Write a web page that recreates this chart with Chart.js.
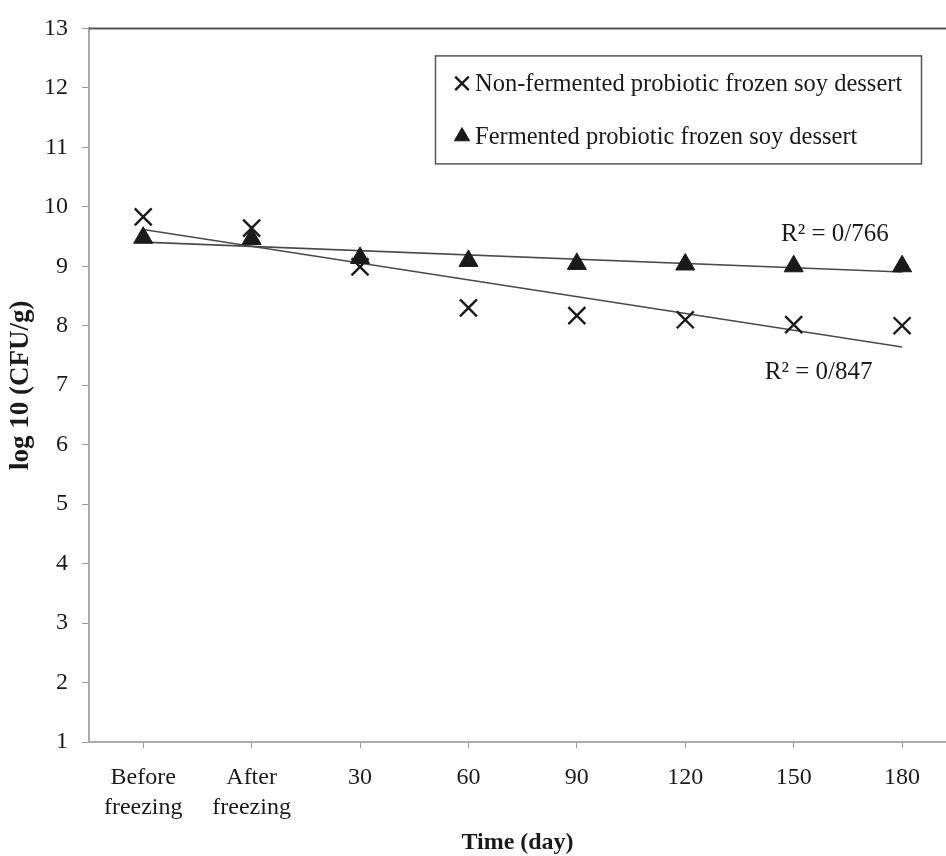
<!DOCTYPE html>
<html>
<head>
<meta charset="utf-8">
<title>Probiotic count during frozen storage</title>
<script src="https://cdn.jsdelivr.net/npm/chart.js@4.4.0/dist/chart.umd.min.js"></script>
<style>
  html, body { margin: 0; padding: 0; background: #fff; overflow: hidden; }
  #wrap { width: 946px; height: 856px; position: relative; overflow: hidden; }
  #wrap canvas { display: block; }
</style>
</head>
<body>
<div id="wrap"><canvas id="storage-chart"></canvas></div>
<script>
(function () {
    "use strict";

    // Values
    var timeLabels = [["Before", "freezing"], ["After", "freezing"], "30", "60", "90", "120", "150", "180"];
    var nonFermented = [9.83, 9.64, 8.99, 8.30, 8.17, 8.10, 8.02, 8.00];
    var fermented = [9.48, 9.46, 9.14, 9.09, 9.04, 9.03, 9.00, 9.00];
    var seriesNames = ["Non-fermented probiotic frozen soy dessert", "Fermented probiotic frozen soy dessert"];
    var r2Texts = ["R\u00b2 = 0/847", "R\u00b2 = 0/766"];

    var serif = "'Liberation Serif', 'Times New Roman', serif";
    var ink = "#1a1a1a";

    // Least squares trend line, first to last category
    function trend(values) {
        var n = values.length, sx = 0, sy = 0, sxy = 0, sxx = 0;
        values.forEach(function (v, i) { sx += i; sy += v; sxy += i * v; sxx += i * i; });
        var b = (n * sxy - sx * sy) / (n * sxx - sx * sx);
        var a = (sy - b * sx) / n;
        return [{x: 0, y: a}, {x: n - 1, y: a + b * (n - 1)}];
    }

    function points(values) {
        return values.map(function (v, i) { return {x: i, y: v}; });
    }

    // Top frame, legend box and R² notes
    var notes = {
        id: "notes",
        afterDatasetsDraw: function (chart) {
            var ctx = chart.ctx, area = chart.chartArea;
            var xs = chart.scales.x, ys = chart.scales.y;
            ctx.save();

            ctx.strokeStyle = "#555";
            ctx.lineWidth = 2;
            ctx.beginPath();
            ctx.moveTo(area.left, area.top);
            ctx.lineTo(area.right, area.top);
            ctx.stroke();

            // legend
            var bx = area.left + 346, by = area.top + 27;
            ctx.lineWidth = 1.5;
            ctx.strokeStyle = "#555";
            ctx.strokeRect(bx + 0.5, by + 0.5, 486, 108);
            ctx.textBaseline = "middle";
            ctx.textAlign = "left";
            [0, 1].forEach(function (k) {
                var ds = chart.data.datasets[k];
                var yy = by + 28 + k * 53;
                ctx.strokeStyle = ds.borderColor;
                ctx.fillStyle = ds.backgroundColor;
                ctx.lineWidth = ds.borderWidth;
                Chart.helpers.drawPoint(ctx, {
                    pointStyle: ds.pointStyle,
                    radius: ds.pointRadius * 0.8,
                    borderWidth: ds.borderWidth
                }, bx + 27, yy);
                ctx.font = "24.5px " + serif;
                ctx.fillStyle = ink;
                ctx.fillText(seriesNames[k], bx + 40, yy + 1);
            });

            // R² labels
            ctx.font = "25px " + serif;
            ctx.textAlign = "center";
            ctx.fillText(r2Texts[1], xs.getPixelForValue(6.38), ys.getPixelForValue(9.535));
            ctx.fillText(r2Texts[0], xs.getPixelForValue(6.23), ys.getPixelForValue(7.22));
            ctx.restore();
        }
    };

    var ctx = document.getElementById("storage-chart").getContext("2d");
    var chart = new Chart(ctx, {
        type: "scatter",
        data: {
            datasets: [{
                    label: seriesNames[0],
                    data: points(nonFermented),
                    pointStyle: "crossRot",
                    pointRadius: 12,
                    pointHoverRadius: 12,
                    borderWidth: 2.4,
                    borderColor: ink,
                    backgroundColor: ink,
                    order: 2
                },
                {
                    label: seriesNames[1],
                    data: points(fermented),
                    pointStyle: "triangle",
                    pointRadius: 11,
                    pointHoverRadius: 11,
                    borderWidth: 1,
                    borderColor: ink,
                    backgroundColor: ink,
                    order: 1
                },
                {
                    type: "line",
                    label: "trend non-fermented",
                    data: trend(nonFermented),
                    borderColor: "#4a4a4a",
                    borderWidth: 1.6,
                    pointRadius: 0,
                    fill: false,
                    order: 3
                },
                {
                    type: "line",
                    label: "trend fermented",
                    data: trend(fermented),
                    borderColor: "#4a4a4a",
                    borderWidth: 1.6,
                    pointRadius: 0,
                    fill: false,
                    order: 3
                }
            ]
        },
        options: {
            responsive: true,
            maintainAspectRatio: false,
            animation: false,
            layout: {autoPadding: false, padding: {top: 20, left: 0, right: 0, bottom: 0}},
            plugins: {
                legend: {display: false},
                tooltip: {enabled: false}
            },
            scales: {
                x: {
                    type: "linear",
                    min: -0.5,
                    max: 7.405,
                    afterBuildTicks: function (scale) {
                        scale.ticks = timeLabels.map(function (_, i) { return {value: i}; });
                    },
                    afterFit: function (scale) {
                        scale.height = 114;
                        scale.paddingLeft = 0;
                        scale.paddingRight = 0;
                    },
                    grid: {drawOnChartArea: false, drawTicks: true, tickLength: 6, tickColor: "#999"},
                    border: {display: true, color: "#aaa", width: 2},
                    ticks: {
                        autoSkip: false,
                        maxRotation: 0,
                        padding: 15,
                        color: ink,
                        font: {family: serif, size: 24, lineHeight: 1.25},
                        callback: function (value) { return timeLabels[value]; }
                    },
                    title: {
                        display: true,
                        text: "Time (day)",
                        color: ink,
                        padding: {top: 0, bottom: 0},
                        font: {family: serif, size: 24, weight: "bold", lineHeight: 1.1}
                    }
                },
                y: {
                    min: 1,
                    max: 13,
                    afterFit: function (scale) { scale.width = 89; },
                    grid: {drawOnChartArea: false, drawTicks: true, tickLength: 7, tickColor: "#999"},
                    border: {display: true, color: "#aaa", width: 2},
                    ticks: {
                        stepSize: 1,
                        padding: 14,
                        color: ink,
                        font: {family: serif, size: 24}
                    },
                    title: {
                        display: true,
                        text: "log 10 (CFU/g)",
                        color: ink,
                        padding: {top: 5, bottom: 0},
                        font: {family: serif, size: 27, weight: "bold", lineHeight: 1.2}
                    }
                }
            }
        },
        plugins: [notes]
    });
})();
</script>
</body>
</html>
